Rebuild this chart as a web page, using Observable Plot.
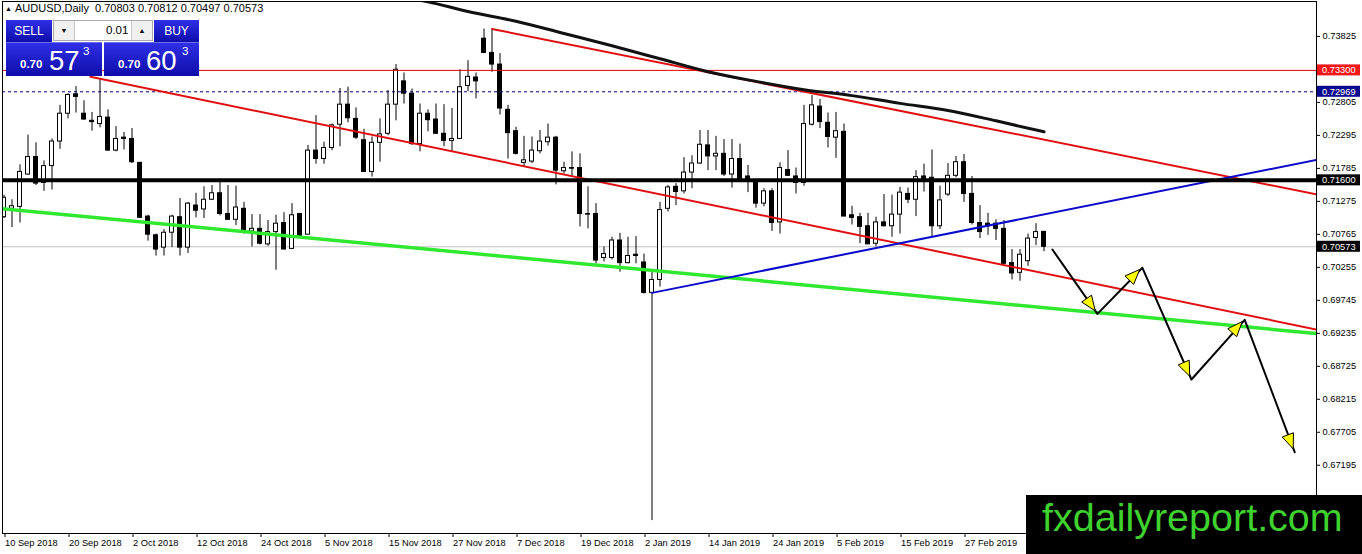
<!DOCTYPE html>
<html><head><meta charset="utf-8">
<script src="https://cdn.jsdelivr.net/npm/d3@7"></script>
<script src="https://cdn.jsdelivr.net/npm/@observablehq/plot@0.6"></script>
<style>
body{margin:0;background:#fff;}
#wrap{position:relative;width:1362px;height:554px;overflow:hidden;font-family:'Liberation Sans',Arial,sans-serif;}
#wrap svg{position:absolute;left:0;top:0;}
.ov{position:absolute;}
.blue{background:linear-gradient(#2f2fe6,#0d0daa);}
.wt{color:#fff;position:absolute;white-space:nowrap;line-height:1;}
</style></head><body><div id="wrap"></div>
<script>
// ---- data ----
const opens  = [.7103,.7116,.7119,.7169,.7196,.7156,.7182,.7220,.7263,.7293,.7263,.7252,.7247,.7257,.7206,.7226,.7224,.7187,.7104,.7075,
.7056,.7079,.7103,.7056,.7121,.7115,.7130,.7140,.7108,.7099,.7116,.7081,.7085,.7061,.7080,.7094,.7054,.7108,.7076,.7206,
.7193,.7210,.7246,.7277,.7255,.7222,.7173,.7218,.7232,.7277,.7313,.7294,.7216,.7263,.7254,.7232,.7221,.7224,.7306,.7319,
.7379,.7357,.7339,.7269,.7236,.7187,.7189,.7205,.7219,.7226,.7174,.7179,.7179,.7108,.7108,.7040,.7040,.7067,.7032,.7045,
.7033,.6986,.7006,.7116,.7150,.7143,.7172,.7186,.7214,.7197,.7201,.7169,.7193,.7166,.7159,.7124,.7143,.7095,.7176,.7166,
.7156,.7246,.7274,.7249,.7226,.7235,.7106,.7103,.7089,.7062,.7095,.7089,.7107,.7139,.7130,.7166,.7164,.7089,.7138,.7167,
.7188,.7139,.7094,.7093,.7093,.7085,.7032,.7017,.7035,.7071,.70803];
const highs  = [.7137,.7130,.7184,.7230,.7218,.7190,.7224,.7276,.7294,.7305,.7283,.7265,.7317,.7269,.7243,.7234,.7240,.7188,.7106,.7077,
.7084,.7106,.7132,.7126,.7140,.7150,.7152,.7162,.7152,.7151,.7126,.7107,.7107,.7098,.7106,.7110,.7124,.7109,.7214,.7260,
.7219,.7247,.7302,.7304,.7272,.7239,.7227,.7255,.7299,.7339,.7326,.7301,.7278,.7269,.7278,.7277,.7271,.7331,.7345,.7326,
.7394,.7394,.7356,.7276,.7242,.7228,.7227,.7237,.7247,.7228,.7188,.7204,.7201,.7150,.7124,.7057,.7072,.7078,.7072,.7073,
.7046,.7018,.7126,.7152,.7155,.7195,.7198,.7237,.7237,.7228,.7223,.7223,.7216,.7183,.7160,.7147,.7147,.7187,.7206,.7179,
.7276,.7291,.7285,.7264,.7265,.7247,.7120,.7109,.7109,.7103,.7138,.7137,.7149,.7148,.7175,.7185,.7207,.7151,.7186,.7197,
.7200,.7166,.7121,.7109,.7099,.7098,.7053,.7053,.7077,.7093,.70812];
const lows   = [.7101,.7087,.7094,.7168,.7152,.7143,.7145,.7208,.7255,.7264,.7253,.7236,.7241,.7205,.7204,.7207,.7186,.7101,.7066,.7043,
.7043,.7056,.7043,.7047,.7102,.7101,.7129,.7105,.7098,.7090,.7077,.7057,.7060,.7058,.7021,.7053,.7054,.7074,.7076,.7185,
.7185,.7206,.7212,.7249,.7223,.7172,.7165,.7188,.7229,.7252,.7278,.7214,.7204,.7235,.7231,.7212,.7204,.7223,.7297,.7286,
.7357,.7327,.7261,.7193,.7199,.7181,.7186,.7201,.7213,.7153,.7170,.7165,.7088,.7085,.7031,.7034,.7037,.7018,.7031,.7031,
.6984,.6634,.6995,.7111,.7121,.7139,.7147,.7185,.7175,.7175,.7166,.7148,.7160,.7141,.7117,.7119,.7081,.7077,.7166,.7139,
.7151,.7244,.7240,.7210,.7194,.7104,.7091,.7062,.7061,.7057,.7088,.7072,.7077,.7124,.7104,.7142,.7072,.7084,.7135,.7164,
.7126,.7091,.7070,.7075,.7067,.7030,.7006,.7004,.7027,.7059,.70497];
const closes = [.7133,.7120,.7173,.7196,.7155,.7182,.7220,.7263,.7292,.7289,.7254,.7250,.7258,.7206,.7224,.7224,.7188,.7102,.7076,.7053,
.7079,.7104,.7056,.7124,.7113,.7130,.7140,.7108,.7099,.7118,.7083,.7085,.7062,.7080,.7093,.7053,.7106,.7074,.7206,.7193,
.7210,.7245,.7277,.7256,.7226,.7173,.7218,.7231,.7277,.7331,.7294,.7216,.7263,.7253,.7232,.7221,.7224,.7304,.7320,.7313,
.7357,.7339,.7271,.7233,.7201,.7191,.7206,.7220,.7226,.7175,.7179,.7178,.7108,.7107,.7036,.7046,.7067,.7032,.7043,.7043,
.6986,.7006,.7114,.7149,.7142,.7172,.7186,.7215,.7197,.7201,.7169,.7193,.7161,.7158,.7124,.7143,.7094,.7179,.7167,.7156,
.7247,.7276,.7250,.7227,.7236,.7104,.7102,.7088,.7061,.7095,.7089,.7107,.7141,.7130,.7165,.7161,.7089,.7129,.7167,.7188,
.7139,.7094,.7080,.7089,.7085,.7031,.7016,.7045,.7070,.7080,.70573];

const xTickBars   = [0,8,16,24,32,40,48,56,64,72,80,88,96,104,112,120];
const xTickLabels = ["10 Sep 2018","20 Sep 2018","2 Oct 2018","12 Oct 2018","24 Oct 2018","5 Nov 2018","15 Nov 2018","27 Nov 2018",
  "7 Dec 2018","19 Dec 2018","2 Jan 2019","14 Jan 2019","24 Jan 2019","5 Feb 2019","15 Feb 2019","27 Feb 2019"];
const yTicks = [0.73825,0.72805,0.72295,0.71785,0.71275,0.70765,0.70255,0.69745,0.69235,0.68725,0.68215,0.67705,0.67195,0.66685];

// horizontal levels
const levelBlack = 0.71600, levelRed = 0.73300, levelDash = 0.72969, levelBid = 0.70573;
// trend lines: [bar, price] endpoints
const greenLine    = [[-1, 0.7117], [165, 0.6922]];
const redLowerLine = [[10.8, 0.7320], [165, 0.6927]];
const redUpperLine = [[61, 0.7394], [165, 0.7136]];
const blueLine     = [[81, 0.6986], [165, 0.7194]];
// moving average (thick black curve)
const maBars   = [48, 53, 58, 64, 70, 76, 82, 88, 94, 100, 106, 112, 118, 124, 130];
const maValues = [0.7447, 0.7436, 0.7421, 0.7406, 0.7387, 0.7368, 0.7348, 0.7328, 0.7313, 0.7300, 0.7291, 0.7279, 0.7268, 0.7252, 0.7235];
// forecast arrows path
const arrowBars   = [131.05, 136.68, 142.3, 148.43, 155.09, 161.34];
const arrowPrices = [0.7053, 0.69536, 0.70248, 0.68521, 0.69444, 0.67397];

// ---- build ----
const candles = opens.map((o, i) => ({i, open: o, high: highs[i], low: lows[i], close: closes[i]}));
const bull = candles.filter(d => d.close > d.open);
const bear = candles.filter(d => d.close <= d.open);
const pts = a => a.map(([i, p]) => ({i, p}));
const ma = maBars.map((b, k) => ({i: b, p: maValues[k]}));
const arrows = arrowBars.map((b, k) => ({i: b, p: arrowPrices[k]}));
const labelMap = new Map(xTickBars.map((b, k) => [b, xTickLabels[k]]));
const hw = 0.25;

const plot = Plot.plot({
  width: 1362, height: 554,
  marginLeft: 2, marginRight: 46, marginTop: 1, marginBottom: 21,
  x: {type: "linear", domain: [-0.1875, 164.0625], axis: null},
  y: {domain: [0.66140, 0.74365], axis: null},
  style: {fontFamily: "'Liberation Sans', Arial, sans-serif", fontSize: "9.3px", background: "white", color: "black"},
  marks: [
    Plot.ruleY([levelBid], {stroke: "#c0c0c0", strokeWidth: 1}),
    Plot.ruleX(candles, {x: "i", y1: "low", y2: "high", stroke: "black", strokeWidth: 1, clip: true}),
    Plot.rect(bull, {x1: d => d.i - hw, x2: d => d.i + hw, y1: "open", y2: "close", fill: "white", stroke: "black", strokeWidth: 1, clip: true}),
    Plot.rect(bear, {x1: d => d.i - hw, x2: d => d.i + hw, y1: "open", y2: "close", fill: "black", stroke: "black", strokeWidth: 1, clip: true}),
    Plot.ruleY([levelRed], {stroke: "#e00000", strokeWidth: 1}),
    Plot.ruleY([levelDash], {stroke: "#000080", strokeWidth: 1, strokeDasharray: "3,3"}),
    Plot.line(pts(greenLine), {x: "i", y: "p", stroke: "#2fe82f", strokeWidth: 3.5, clip: true}),
    Plot.line(pts(redLowerLine), {x: "i", y: "p", stroke: "#e01010", strokeWidth: 2, clip: true}),
    Plot.line(pts(redUpperLine), {x: "i", y: "p", stroke: "#e01010", strokeWidth: 2, clip: true}),
    Plot.line(pts(blueLine), {x: "i", y: "p", stroke: "#0a0acc", strokeWidth: 2, clip: true}),
    Plot.ruleY([levelBlack], {stroke: "black", strokeWidth: 4}),
    Plot.line(ma, {x: "i", y: "p", stroke: "#111", strokeWidth: 3, curve: "monotone-x", clip: true}),
    Plot.line(arrows, {x: "i", y: "p", stroke: "black", strokeWidth: 2, clip: true}),
    Plot.frame({stroke: "black"}),
    Plot.axisY(yTicks, {anchor: "right", tickSize: 3, tickPadding: 3, tickFormat: d3.format(".5f"), label: null}),
    Plot.axisX(xTickBars, {anchor: "bottom", tickSize: 4, tickPadding: 2, tickFormat: d => labelMap.get(d), textAnchor: "start", dx: 1, label: null})
  ]
});

const wrap = document.getElementById("wrap");
wrap.appendChild(plot);

// arrowheads & price tags using the plot's own scales
const sx = plot.scale("x"), sy = plot.scale("y");
const svg = d3.select(plot);
const heads = svg.append("g");
for (let k = 0; k < arrows.length - 1; k++) {
  const ax = sx.apply(arrows[k].i), ay = sy.apply(arrows[k].p);
  const bx = sx.apply(arrows[k + 1].i), by = sy.apply(arrows[k + 1].p);
  const L = Math.hypot(bx - ax, by - ay), ux = (bx - ax) / L, uy = (by - ay) / L;
  const tx = bx - ux * 3, ty = by - uy * 3;
  const cx = tx - ux * 15, cy = ty - uy * 15;
  const px = -uy * 6, py = ux * 6;
  heads.append("polygon")
    .attr("points", `${tx},${ty} ${cx + px},${cy + py} ${cx - px},${cy - py}`)
    .attr("fill", "#ffff00").attr("stroke", "black").attr("stroke-width", 1);
}
const tags = [[levelRed, "#f01818"], [levelDash, "#0a0a8c"], [levelBlack, "#000"], [levelBid, "#000"]];
const tg = svg.append("g").attr("text-anchor", "start");
for (const [p, c] of tags) {
  const y = sy.apply(p);
  tg.append("rect").attr("x", 1317).attr("y", y - 5.5).attr("width", 43).attr("height", 11).attr("fill", c);
  tg.append("text").attr("x", 1322).attr("y", y + 3.4).attr("fill", "white").attr("text-anchor", "start")
    .attr("font-size", "9.3px").text(d3.format(".5f")(p));
}

// overlays: header, trade panel, logo
wrap.insertAdjacentHTML("beforeend", `
<div class="ov" style="left:5px;top:3px;font-size:11px;line-height:1;color:#000;white-space:nowrap;"><span style="font-size:7px;position:relative;top:-1px;">▲</span>&nbsp;AUDUSD,Daily&nbsp; 0.70803 0.70812 0.70497 0.70573</div>
<div class="ov blue" style="left:6px;top:20px;width:46px;height:22px;"><span class="wt" style="left:0;width:46px;text-align:center;top:5px;font-size:12px;">SELL</span></div>
<div class="ov blue" style="left:154px;top:20px;width:45px;height:22px;"><span class="wt" style="left:0;width:45px;text-align:center;top:5px;font-size:12px;">BUY</span></div>
<div class="ov" style="left:53px;top:20px;width:100px;height:21px;background:#fff;border:1px solid #a9a9a9;box-sizing:border-box;">
  <div style="position:absolute;left:0;top:0;width:20px;height:19px;background:#f0f0f0;border-right:1px solid #c8c8c8;font-size:7px;text-align:center;line-height:19px;">▼</div>
  <div style="position:absolute;left:52px;top:4px;font-size:11.5px;line-height:1;">0.01</div>
  <div style="position:absolute;right:0;top:0;width:20px;height:19px;background:#f0f0f0;border-left:1px solid #c8c8c8;font-size:7px;text-align:center;line-height:19px;">▲</div>
</div>
<div class="ov blue" style="left:6px;top:42px;width:96px;height:34px;border-top:1px solid #6c6cf0;box-sizing:border-box;">
  <span class="wt" style="left:14px;top:16px;font-size:11.5px;font-weight:bold;">0.70</span>
  <span class="wt" style="left:43px;top:4px;font-size:27.5px;">57</span>
  <span class="wt" style="left:77px;top:3px;font-size:11.5px;">3</span>
</div>
<div class="ov blue" style="left:104px;top:42px;width:95px;height:34px;border-top:1px solid #6c6cf0;box-sizing:border-box;">
  <span class="wt" style="left:14px;top:16px;font-size:11.5px;font-weight:bold;">0.70</span>
  <span class="wt" style="left:42px;top:4px;font-size:27.5px;">60</span>
  <span class="wt" style="left:78px;top:3px;font-size:11.5px;">3</span>
</div>
<div class="ov" style="left:1026px;top:495px;width:336px;height:59px;background:#000;">
  <span style="position:absolute;left:16px;top:3px;font-size:39.5px;line-height:1;color:#3fd22f;white-space:nowrap;">fxdailyreport.com</span>
</div>
`);
</script>
</body></html>
